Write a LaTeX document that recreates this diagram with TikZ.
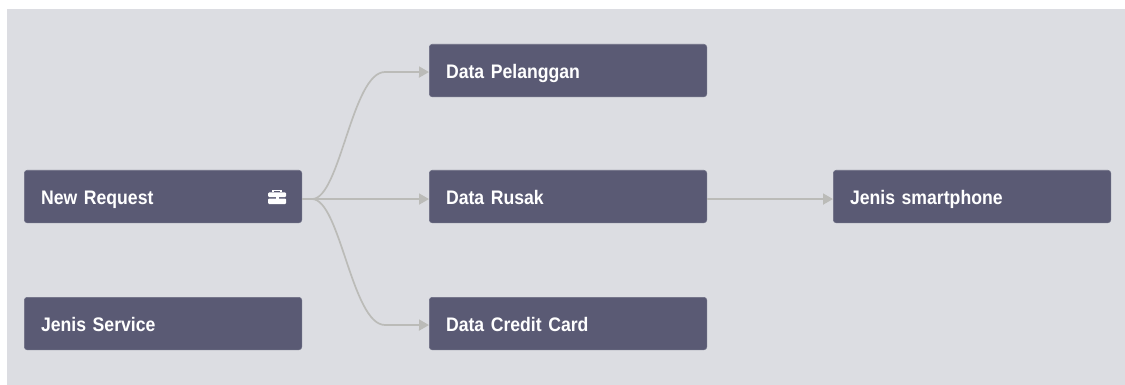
\documentclass[tikz,border=0pt]{standalone}
\usepackage{fontspec}
\setmainfont{Liberation Sans}[FakeStretch=0.9,WordSpace=0.75]
\usetikzlibrary{arrows.meta}
\definecolor{bgc}{HTML}{DCDDE2}
\definecolor{boxc}{HTML}{5A5A74}
\definecolor{linec}{HTML}{BBBBB8}
\tikzset{
  x=1pt,y=-1pt,
  card/.style={draw=boxc!85!bgc,line width=.6pt,fill=boxc,rounded corners=3pt,minimum width=277.5pt,minimum height=52.5pt,inner sep=0pt,anchor=north west,
    text=white,font=\fontsize{19.6}{20}\selectfont\bfseries,text width=244pt,align=left,text height=19pt,text depth=3pt},
  link/.style={draw=linec,line width=1.7pt,-{Triangle[length=10pt,width=11pt,fill=linec]}},
}
\begin{document}
\begin{tikzpicture}
\useasboundingbox (0,0) rectangle (1125,385);
\fill[white] (0,0) rectangle (1125,385);
\fill[bgc] (7,9) rectangle (1125,385);
\node[card] (req) at (24,170) {New Request};
\node[card] (svc) at (24,297) {Jenis Service};
\node[card] (pel) at (429,44) {Data Pelanggan};
\node[card] (rus) at (429,170) {Data Rusak};
\node[card] (cc) at (429,297) {Data Credit Card};
\node[card] (hp) at (833,170) {Jenis smartphone};
\coordinate (s) at ([yshift=-2.5pt]req.east);
\draw[link] (s) -- ++(10,0) .. controls +(28,0) and (352,72) .. (385,72) -- ([yshift=-1.5pt]pel.west);
\draw[link] (s) -- ([yshift=-2.5pt]rus.west);
\draw[link] (s) -- ++(10,0) .. controls +(28,0) and (352,325) .. (385,325) -- ([yshift=-1.5pt]cc.west);
\draw[link] ([yshift=-2.5pt]rus.east) -- ([yshift=-2.5pt]hp.west);
% briefcase icon
\fill[white,rounded corners=1pt] (268,192.5) rectangle (286,197);
\fill[white,rounded corners=1pt] (268,198.5) rectangle (286,204);
\draw[white,line width=1.2pt] (273,192.5) -- (273,190.5) -- (281,190.5) -- (281,192.5);
\fill[white] (275.5,197) rectangle (278.5,200);
\end{tikzpicture}
\end{document}
